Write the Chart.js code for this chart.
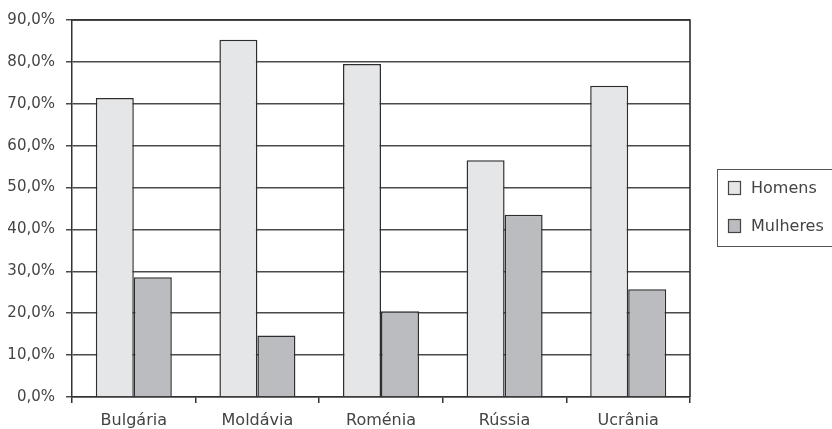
<!DOCTYPE html>
<html>
<head>
<meta charset="utf-8">
<script src="https://cdn.jsdelivr.net/npm/chart.js@4"></script>
<style>
  html, body { margin: 0; padding: 0; background: #fff; }
  #wrap { width: 832px; height: 429px; position: relative; }
</style>
</head>
<body>
<div id="wrap"><canvas id="c"></canvas></div>
<script>
const countries = ['Bulgária', 'Moldávia', 'Roménia', 'Rússia', 'Ucrânia'];
const homens = [71.4, 85.3, 79.5, 56.5, 74.3];
const mulheres = [28.6, 14.7, 20.5, 43.5, 25.7];
const seriesNames = ['Homens', 'Mulheres'];

const TEXT = '#444';
const GRID = '#4a4a4a';
const FONT = 'DejaVu Sans';

const fmt = v => v.toFixed(1).replace('.', ',') + '%';

// Frame around the plot area
const framePlugin = {
  id: 'frame',
  afterDatasetsDraw(chart) {
    const { ctx, chartArea: a } = chart;
    ctx.save();
    ctx.strokeStyle = '#2e2e2e';
    ctx.lineWidth = 1.6;
    ctx.beginPath();
    ctx.moveTo(a.left, a.top);
    ctx.lineTo(a.right, a.top);
    ctx.lineTo(a.right, a.bottom);
    ctx.stroke();
    ctx.restore();
  }
};

// Boxed legend to the right of the plot
const boxLegend = {
  id: 'boxLegend',
  afterDraw(chart) {
    const { ctx } = chart;
    ctx.save();
    ctx.strokeStyle = '#555';
    ctx.lineWidth = 1;
    ctx.strokeRect(717.5, 169.5, 130, 77);
    ctx.font = '16px "' + FONT + '"';
    ctx.textBaseline = 'middle';
    ctx.textAlign = 'left';
    const rows = [188, 226];
    chart.data.datasets.forEach((ds, i) => {
      const y = rows[i];
      ctx.fillStyle = ds.backgroundColor;
      ctx.fillRect(728.5, y - 6.5, 12, 13);
      ctx.strokeStyle = '#444';
      ctx.lineWidth = 1.2;
      ctx.strokeRect(728.5, y - 6.5, 12, 13);
      ctx.fillStyle = TEXT;
      ctx.fillText(ds.label, 751, y + 1);
    });
    ctx.restore();
  }
};

new Chart(document.getElementById('c'), {
  type: 'bar',
  data: {
    labels: countries,
    datasets: [
      { label: seriesNames[0], data: homens, backgroundColor: '#e5e6e8', borderColor: '#2e2e2e', borderWidth: 1.5 },
      { label: seriesNames[1], data: mulheres, backgroundColor: '#bbbcbf', borderColor: '#2e2e2e', borderWidth: 1.5 }
    ]
  },
  options: {
    responsive: true,
    maintainAspectRatio: false,
    animation: false,
    devicePixelRatio: 1,
    layout: { padding: { top: 20, right: 142, left: 0, bottom: 0 } },
    datasets: { bar: { categoryPercentage: 0.615, barPercentage: 1.0 } },
    plugins: { legend: { display: false }, tooltip: { enabled: false } },
    scales: {
      x: {
        grid: { drawOnChartArea: false, drawTicks: true, tickLength: 6, color: '#333', lineWidth: 1.5, offset: true },
        border: { color: '#333', width: 1.5 },
        ticks: { color: TEXT, font: { family: FONT, size: 16 }, padding: 8 },
        afterFit(s) { s.height = 32; }
      },
      y: {
        min: 0, max: 90,
        ticks: { stepSize: 10, color: TEXT, font: { family: FONT, size: 15 }, padding: 11, callback: v => fmt(v) },
        grid: { color: GRID, lineWidth: 1.5, tickLength: 6 },
        border: { color: '#333', width: 1.5 },
        afterFit(s) { s.width = 72; }
      }
    }
  },
  plugins: [framePlugin, boxLegend]
});
</script>
</body>
</html>
